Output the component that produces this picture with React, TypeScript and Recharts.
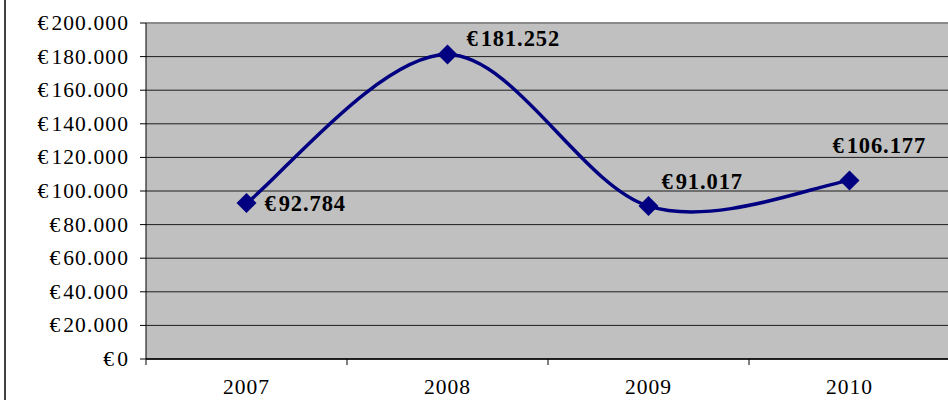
import React from "react"
import {
  LineChart, Line, XAxis, YAxis, CartesianGrid, ReferenceLine, LabelList,
} from "recharts"

const years = ["2007", "2008", "2009", "2010"]
const revenue = [92784, 181252, 91017, 106177]
const yTicks = [0, 20000, 40000, 60000, 80000, 100000, 120000, 140000, 160000, 180000, 200000]

const data = years.map((year, i) => ({ year, value: revenue[i] }))

const FONT = "'Liberation Serif', 'Times New Roman', serif"
const NAVY = "#000080"
const HALF_BAND = 100.5

// where each value label sits relative to its point
const labelOffsets = [
  { dx: 18, dy: 0 },
  { dx: 19, dy: -16 },
  { dx: 13, dy: -25 },
  { dx: -17, dy: -36 },
]

const thousands = (v: number) => String(v).replace(/\B(?=(\d{3})+(?!\d))/g, ".")

// Excel style smoothed line (Catmull-Rom as cubic beziers)
const excelSmooth = (context: any) => {
  let pts: number[][] = []
  return {
    areaStart() {},
    areaEnd() {},
    lineStart() { pts = [] },
    point(x: number, y: number) { pts.push([+x, +y]) },
    lineEnd() {
      if (!pts.length) return
      context.moveTo(pts[0][0], pts[0][1])
      for (let i = 0; i < pts.length - 1; i++) {
        const p0 = pts[Math.max(i - 1, 0)]
        const p1 = pts[i]
        const p2 = pts[i + 1]
        const p3 = pts[Math.min(i + 2, pts.length - 1)]
        context.bezierCurveTo(
          p1[0] + (p2[0] - p0[0]) / 6, p1[1] + (p2[1] - p0[1]) / 6,
          p2[0] - (p3[0] - p1[0]) / 6, p2[1] - (p3[1] - p1[1]) / 6,
          p2[0], p2[1],
        )
      }
    },
  }
}

const Diamond = (props: any) => {
  const { cx, cy } = props
  if (cx == null || cy == null) return null
  const r = 10
  return (
    <polygon
      points={`${cx},${cy - r} ${cx + r},${cy} ${cx},${cy + r} ${cx - r},${cy}`}
      fill={NAVY}
    />
  )
}

const YearTick = (props: any) => {
  const { x, y, payload } = props
  return (
    <g>
      <line x1={x - HALF_BAND} y1={y} x2={x - HALF_BAND} y2={y + 6} stroke="#000" strokeWidth={1} />
      <text x={x} y={y + 35} textAnchor="middle" fontFamily={FONT} fontSize={21.5} letterSpacing={1} fill="#000">
        {payload.value}
      </text>
    </g>
  )
}

const EuroTick = (props: any) => {
  const { x, y, payload } = props
  return (
    <text x={x + 1} y={y} dominantBaseline="central" textAnchor="end" fontFamily={FONT} fontSize={21.5} letterSpacing={1.1} fill="#000">
      <tspan>€</tspan>
      <tspan dx={2}>{thousands(payload.value)}</tspan>
    </text>
  )
}

const ValueLabel = (props: any) => {
  const { x, y, value, index } = props
  const off = labelOffsets[index] || { dx: 0, dy: 0 }
  return (
    <text
      x={x + off.dx}
      y={y + off.dy}
      dominantBaseline="central"
      fontFamily={FONT}
      fontWeight="bold"
      fontSize={22.5}
      letterSpacing={0.9}
      fill="#000"
    >
      <tspan>€</tspan>
      <tspan dx={2}>{thousands(value)}</tspan>
    </text>
  )
}

export default function App() {
  return (
    <div style={{ position: "absolute", left: 0, top: 0, width: 948, height: 400, overflow: "hidden", background: "#fff" }}>
      <div style={{ position: "absolute", left: 4, top: 0, width: 2, height: 400, background: "#404040" }} />
      <LineChart width={950} height={400} data={data} margin={{ top: 23, right: 0, bottom: 0, left: 0 }}>
        <CartesianGrid
          vertical={false}
          fill="#C0C0C0"
          fillOpacity={1}
          stroke="#000"
          strokeOpacity={0.85}
        />
        <ReferenceLine y={200000} stroke="#8a8a8a" strokeWidth={2} />
        <XAxis
          dataKey="year"
          height={41}
          padding={{ left: HALF_BAND, right: HALF_BAND }}
          axisLine={{ stroke: "#000", strokeWidth: 1.5 }}
          tickLine={false}
          tickSize={0}
          tickMargin={0}
          tick={<YearTick />}
          interval={0}
        />
        <YAxis
          width={146}
          domain={[0, 200000]}
          ticks={yTicks}
          interval={0}
          axisLine={{ stroke: "#000", strokeWidth: 1 }}
          tickLine={{ stroke: "#000" }}
          tickSize={6}
          tickMargin={12}
          tick={<EuroTick />}
        />
        <Line
          dataKey="value"
          type={excelSmooth as any}
          stroke={NAVY}
          strokeWidth={3.5}
          dot={<Diamond />}
          activeDot={false}
          isAnimationActive={false}
        >
          <LabelList dataKey="value" content={<ValueLabel />} />
        </Line>
      </LineChart>
    </div>
  )
}
